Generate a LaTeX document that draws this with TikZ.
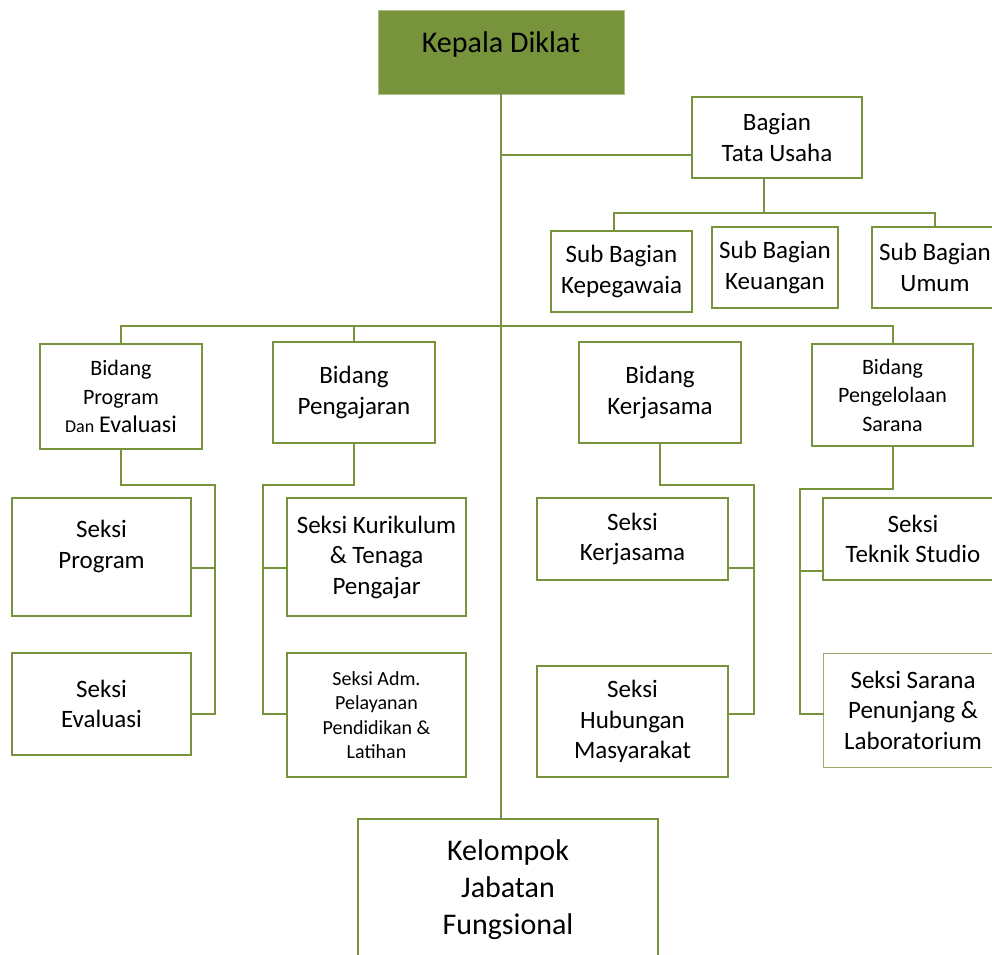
\documentclass[tikz,border=0pt]{standalone}
\usepackage{fontspec}
\setmainfont{Carlito}
\definecolor{diklatgreen}{HTML}{77933C}

\tikzset{
  unit/.style={draw=diklatgreen, line width=2pt, fill=white, align=center,
    inner sep=0pt, font=\fontsize{25}{30.5}\selectfont},
  elbow/.style={to path={|- (\tikztotarget)}},
}

\begin{document}
\begin{tikzpicture}[x=1pt,y=-1pt]

      \useasboundingbox (0,0) rectangle (992,954);

      % Nodes
      \begin{scope}[every node/.style={unit}]
        \node[fill=diklatgreen, draw=diklatgreen!60, line width=1pt, minimum width=246pt, minimum height=84pt,
          font=\fontsize{30}{37}\selectfont] (kepala) at (501,52) {Kepala Diklat\\[-18pt]\mbox{}};

        \node[minimum width=170pt, minimum height=81pt] (tu) at (777,137.5) {Bagian\\Tata Usaha};
        \node[minimum width=141pt, minimum height=81pt] (kepeg) at (621.5,271.5) {Sub Bagian\\Kepegawaia};
        \node[minimum width=126pt, minimum height=81pt] (keu) at (775,267.5) {Sub Bagian\\Keuangan};
        \node[minimum width=126pt, minimum height=81pt] (umum) at (935,267.5) {Sub Bagian\\Umum};

        \node[minimum width=162pt, minimum height=105pt, font=\fontsize{22}{28.5}\selectfont] (prog) at (121,396.5)
          {Bidang\\Program\\{\fontsize{18}{22}\selectfont Dan} {\fontsize{24}{28.5}\selectfont Evaluasi}};
        \node[minimum width=162pt, minimum height=101pt] (ajar) at (354,392.5) {Bidang\\Pengajaran};
        \node[minimum width=162pt, minimum height=101pt] (kerja) at (660,392.5) {Bidang\\Kerjasama};
        \node[minimum width=161pt, minimum height=102pt, font=\fontsize{22}{28.5}\selectfont] (sarana) at (892.5,395)
          {Bidang\\Pengelolaan\\Sarana};

        \node[minimum width=179pt, minimum height=118pt] (sprog) at (101.5,557) {Seksi\\Program\\[-5pt]\mbox{}};
        \node[minimum width=179pt, minimum height=102pt] (seval) at (101.5,704) {Seksi\\Evaluasi};
        \node[minimum width=179pt, minimum height=118pt] (skur) at (376.5,557) {Seksi Kurikulum\\\& Tenaga\\Pengajar};
        \node[minimum width=179pt, minimum height=124pt, font=\fontsize{20}{24.5}\selectfont] (sadm) at (376.5,715)
          {Seksi Adm.\\Pelayanan\\Pendidikan \&\\Latihan};
        \node[minimum width=191pt, minimum height=82pt] (skerja) at (632.5,539) {Seksi\\Kerjasama};
        \node[minimum width=191pt, minimum height=111pt] (shub) at (632.5,721.5) {Seksi\\Hubungan\\Masyarakat};
        \node[minimum width=180pt, minimum height=82pt] (steknik) at (913,539) {Seksi\\Teknik Studio};
        \node[minimum width=180pt, minimum height=114pt, draw=diklatgreen!75, line width=1pt] (spen) at (913,710)
          {Seksi Sarana\\Penunjang \&\\Laboratorium};

        \node[minimum width=300pt, minimum height=141pt, font=\fontsize{30}{37}\selectfont] (kelompok) at (508,889.5)
          {Kelompok\\Jabatan\\Fungsional};
      \end{scope}

      % Bus points
      \coordinate (tujoin) at (501,155);
      \coordinate (subbus) at (764,213);
      \coordinate (kepegdrop) at (614,213);
      \coordinate (bidbus) at (501,326);

      \coordinate (progtop) at (215,485);
      \coordinate (progmid) at (215,568);
      \coordinate (progbot) at (215,714);
      \coordinate (ajartop) at (263,485);
      \coordinate (ajarmid) at (263,568);
      \coordinate (ajarbot) at (263,714);
      \coordinate (kerjatop) at (754,485);
      \coordinate (kerjamid) at (754,568);
      \coordinate (kerjabot) at (754,714);
      \coordinate (saranatop) at (800,489);
      \coordinate (saranamid) at (800,571);
      \coordinate (saranabot) at (800,714);

      % Edges
      \begin{scope}[every edge/.style={draw=diklatgreen, line width=2pt, line cap=rect}]
        \path (kepala.south) edge (kepala.south |- kelompok.north);
        \path (tujoin) edge (tujoin -| tu.west);

        \path (tu.south -| subbus) edge (subbus);
        \path (kepegdrop) edge (subbus -| umum.north);
        \path (kepegdrop) edge (kepegdrop |- kepeg.north);
        \path (subbus -| umum.north) edge (umum.north);

        \path (bidbus -| prog.north) edge (bidbus -| sarana.north);
        \path (bidbus -| prog.north) edge (prog.north);
        \path (bidbus -| ajar.north) edge (ajar.north);
        \path (bidbus -| sarana.north) edge (sarana.north);

        \path (prog.south) edge[elbow] (progtop);
        \path (progtop) edge (progbot);
        \path (progmid) edge (progmid -| sprog.east);
        \path (progbot) edge (progbot -| seval.east);

        \path (ajar.south) edge[elbow] (ajartop);
        \path (ajartop) edge (ajarbot);
        \path (ajarmid) edge (ajarmid -| skur.west);
        \path (ajarbot) edge (ajarbot -| sadm.west);

        \path (kerja.south) edge[elbow] (kerjatop);
        \path (kerjatop) edge (kerjabot);
        \path (kerjamid) edge (kerjamid -| skerja.east);
        \path (kerjabot) edge (kerjabot -| shub.east);

        \path (sarana.south) edge[elbow] (saranatop);
        \path (saranatop) edge (saranabot);
        \path (saranamid) edge (saranamid -| steknik.west);
        \path (saranabot) edge (saranabot -| spen.west);
      \end{scope}

    \end{tikzpicture}
\end{document}
